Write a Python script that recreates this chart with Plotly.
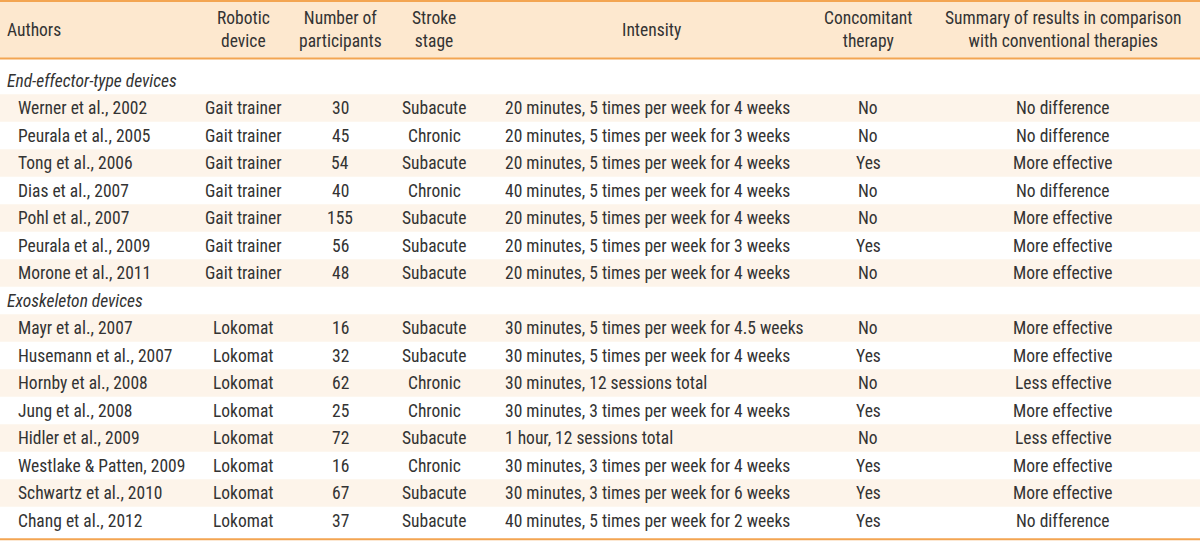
import plotly.graph_objects as go

# ---- data ----
headers = ["Authors", "Robotic<br>device", "Number of<br>participants", "Stroke<br>stage",
           "Intensity", "Concomitant<br>therapy",
           "Summary of results in comparison<br>with conventional therapies"]

group_names = ["End-effector-type devices", "Exoskeleton devices"]
groups = [0, 0, 0, 0, 0, 0, 0, 1, 1, 1, 1, 1, 1, 1, 1]

authors = ["Werner et al., 2002", "Peurala et al., 2005", "Tong et al., 2006", "Dias et al., 2007",
           "Pohl et al., 2007", "Peurala et al., 2009", "Morone et al., 2011",
           "Mayr et al., 2007", "Husemann et al., 2007", "Hornby et al., 2008", "Jung et al., 2008",
           "Hidler et al., 2009", "Westlake & Patten, 2009", "Schwartz et al., 2010", "Chang et al., 2012"]
devices = ["Gait trainer"] * 7 + ["Lokomat"] * 8
participants = [30, 45, 54, 40, 155, 56, 48, 16, 32, 62, 25, 72, 16, 67, 37]
stages = ["Subacute", "Chronic", "Subacute", "Chronic", "Subacute", "Subacute", "Subacute",
          "Subacute", "Subacute", "Chronic", "Chronic", "Subacute", "Chronic", "Subacute", "Subacute"]
intensity = ["20 minutes, 5 times per week for 4 weeks",
             "20 minutes, 5 times per week for 3 weeks",
             "20 minutes, 5 times per week for 4 weeks",
             "40 minutes, 5 times per week for 4 weeks",
             "20 minutes, 5 times per week for 4 weeks",
             "20 minutes, 5 times per week for 3 weeks",
             "20 minutes, 5 times per week for 4 weeks",
             "30 minutes, 5 times per week for 4.5 weeks",
             "30 minutes, 5 times per week for 4 weeks",
             "30 minutes, 12 sessions total",
             "30 minutes, 3 times per week for 4 weeks",
             "1 hour, 12 sessions total",
             "30 minutes, 3 times per week for 4 weeks",
             "30 minutes, 3 times per week for 6 weeks",
             "40 minutes, 5 times per week for 2 weeks"]
concomitant = ["No", "No", "Yes", "No", "No", "Yes", "No",
               "No", "Yes", "No", "Yes", "No", "Yes", "Yes", "Yes"]
summary = ["No difference", "No difference", "More effective", "No difference", "More effective",
           "More effective", "More effective",
           "More effective", "More effective", "Less effective", "More effective", "Less effective",
           "More effective", "More effective", "No difference"]

# ---- styling / layout ----
FONT = "Roboto Condensed, Roboto, sans-serif"
FS = 17.5
TXT = "#333333"
HEAD_FILL = "#fde8cf"
ROW_FILL = "#fdf4ea"
LINE = "#f3a552"
W, H = 1200, 543

col_x = [16, 243, 340, 434, 503, 868, 1063]
col_anchor = ["left", "center", "center", "center", "left", "center", "center"]
head_x = [5, 243, 340, 434, 651, 868, 1063]
head_anchor = ["left", "center", "center", "center", "center", "center", "center"]

y0 = 80.5
pitch = 27.5
header_y = 29.5
header_bottom = 58.5

fig = go.Figure()
shapes = []
ann = []

shapes.append(dict(type="rect", x0=0, x1=W, y0=0, y1=header_bottom, fillcolor=HEAD_FILL,
                   line_width=0, layer="below"))

display = []
prev = None
for i, g in enumerate(groups):
    if g != prev:
        display.append(("group", g))
        prev = g
    display.append(("row", i))

shade = False
for k, (kind, idx) in enumerate(display):
    y = y0 + pitch * k
    if kind == "group":
        ann.append(dict(x=5, y=y, text=f"<i>{group_names[idx]}</i>", xanchor="left",
                        showarrow=False, font=dict(size=FS, color=TXT, family=FONT)))
        shade = True
        continue
    if shade:
        shapes.append(dict(type="rect", x0=0, x1=W, y0=y - pitch / 2, y1=y + pitch / 2,
                           fillcolor=ROW_FILL, line_width=0, layer="below"))
    shade = not shade
    vals = [authors[idx], devices[idx], str(participants[idx]), stages[idx],
            intensity[idx], concomitant[idx], summary[idx]]
    for c, v in enumerate(vals):
        ann.append(dict(x=col_x[c], y=y, text=v, xanchor=col_anchor[c], showarrow=False,
                        font=dict(size=FS, color=TXT, family=FONT)))

for c, h in enumerate(headers):
    ann.append(dict(x=head_x[c], y=header_y, text=h, xanchor=head_anchor[c], showarrow=False,
                    align=head_anchor[c], font=dict(size=FS, color=TXT, family=FONT)))

last_y = y0 + pitch * (len(display) - 1) + pitch / 2 + 5
for yy in [1, header_bottom, last_y]:
    shapes.append(dict(type="line", x0=0, x1=W, y0=yy, y1=yy, line=dict(color=LINE, width=2)))

fig.update_layout(
    width=W, height=H, margin=dict(l=0, r=0, t=0, b=0),
    paper_bgcolor="white", plot_bgcolor="white",
    xaxis=dict(range=[0, W], visible=False, fixedrange=True),
    yaxis=dict(range=[H, 0], visible=False, fixedrange=True),
    shapes=shapes, annotations=ann, showlegend=False,
)
fig.write_html("out.html", config={"displayModeBar": False},
               post_script="document.body.style.margin='0';document.body.style.padding='0';")
